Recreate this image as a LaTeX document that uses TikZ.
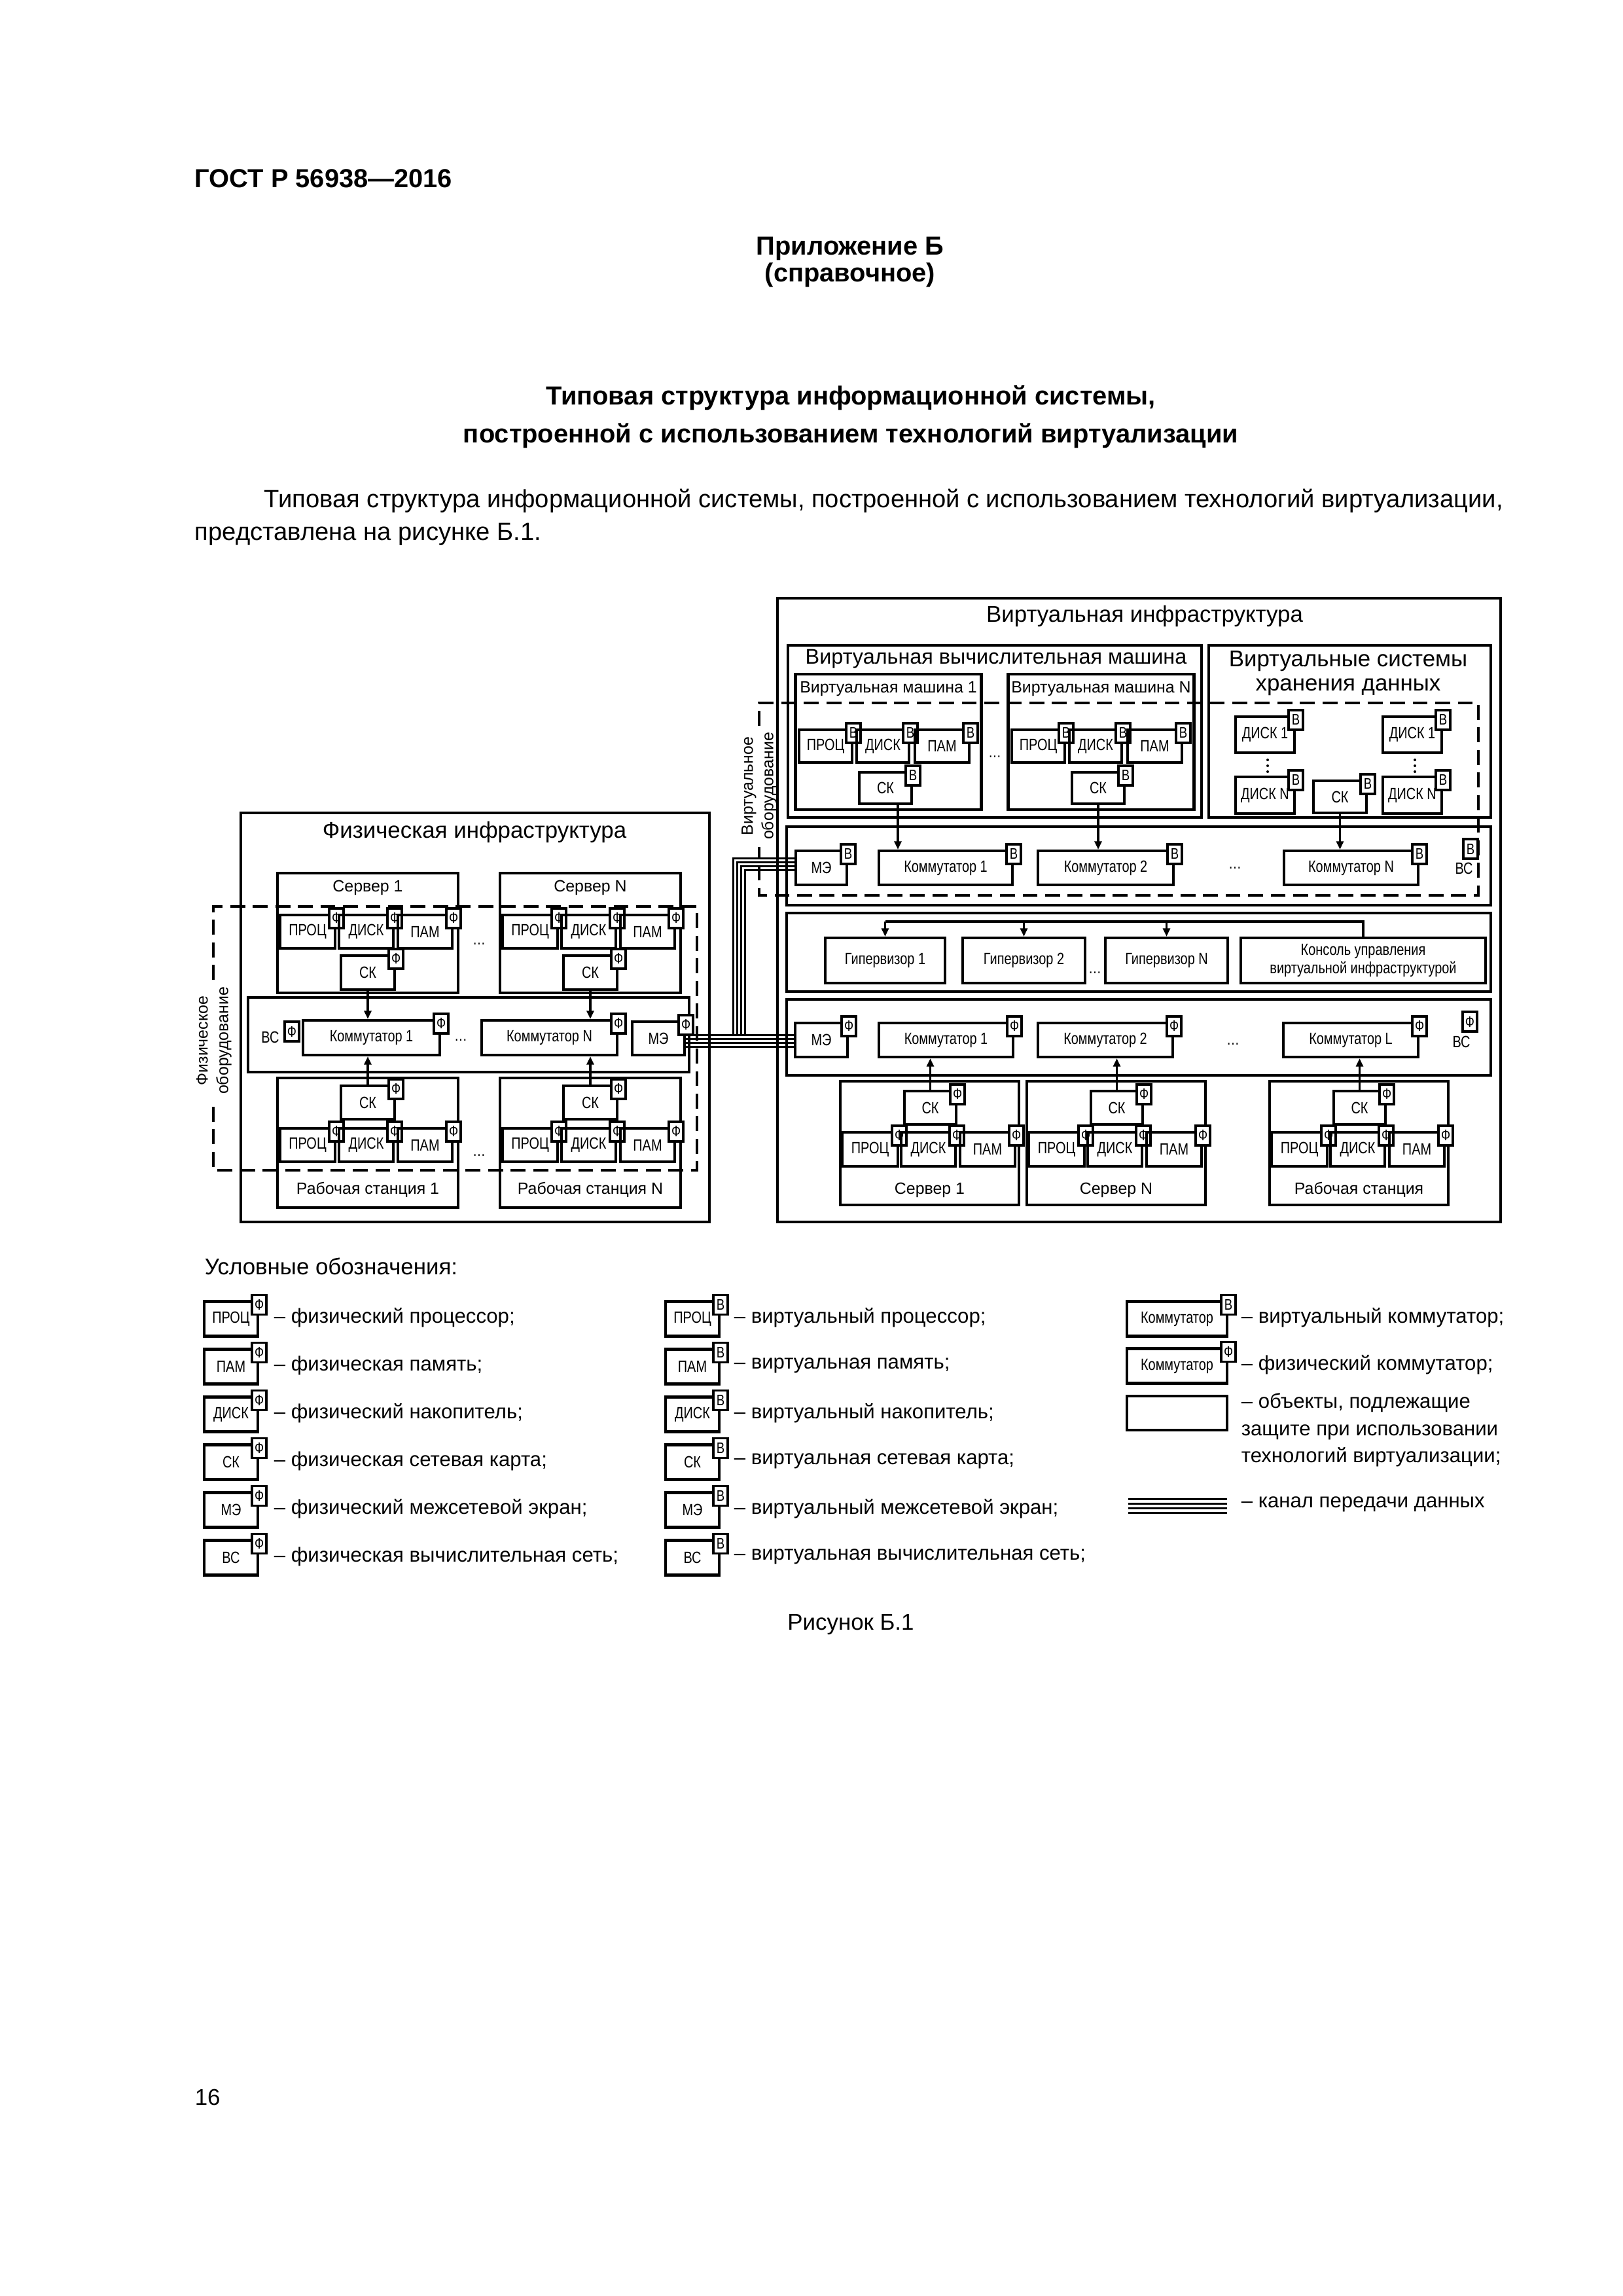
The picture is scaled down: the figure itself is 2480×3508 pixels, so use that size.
\documentclass[tikz,border=0pt]{standalone}
\usepackage{fontspec}
\setmainfont{Liberation Sans}
\newfontfamily\narrowfont[FakeStretch=0.8]{Liberation Sans}
\usetikzlibrary{arrows.meta,calc}

\newcommand*{\pxu}{0.2409pt}
\newcommand*{\hdrfont}{\fontsize{9.6}{11.5}\selectfont\bfseries}
\newcommand*{\parfont}{\fontsize{9.2}{11}\selectfont}
\newcommand*{\bigfont}{\fontsize{8.4}{9}\selectfont}
\newcommand*{\vcmfont}{\fontsize{7.8}{9}\selectfont}
\newcommand*{\midfont}{\fontsize{6}{7.5}\selectfont}
\newcommand*{\lblfont}{\narrowfont\fontsize{6}{6.6}\selectfont}
\newcommand*{\tagfont}{\narrowfont\fontsize{5.6}{6}\selectfont}
\newcommand*{\legfont}{\fontsize{7.5}{10}\selectfont}
\newcommand*{\legheadfont}{\fontsize{8.4}{10}\selectfont}

% box with its marker (Ф / В) on the upper right corner
\newcommand*{\unitbox}[7]{%
	\node[box={#4}{#5}] (#1) at (#2,#3) {#6};
	\node[tag] (#1-t) at ($(#1.north east)+(0,7)$) {#7};%
}

\begin{document}
\begin{tikzpicture}
[
	x=\pxu,
	y=-\pxu,
	box/.style 2 args={draw,line width=1pt,inner sep=0pt,minimum width=#1*\pxu,minimum height=#2*\pxu,font=\lblfont},
	tag/.style={draw,fill=white,line width=0.8pt,inner sep=0pt,minimum width=22*\pxu,minimum height=30*\pxu,font=\tagfont},
	ttl/.style={font=\bigfont,inner sep=0pt},
	sub/.style={font=\midfont,inner sep=0pt},
	desc/.style={font=\legfont,anchor=west,inner sep=0pt,align=left},
	hwline/.style={line width=0.75pt,dash pattern=on 5.5pt off 2.8pt},
	arr/.style={line width=0.75pt,-{Triangle[length=3pt,width=2.6pt]}},
	conn/.style={line width=0.75pt},
	chan/.style={line width=0.72pt}
]

	\fill[white] (0,0) rectangle (2480,3508);
	\useasboundingbox (0,0) rectangle (2480,3508);

	% page head
	\node[font=\hdrfont,anchor=west,inner sep=0pt] (gost) at (297,273) {ГОСТ Р 56938—2016};
	\node[font=\hdrfont,inner sep=0pt] (annex) at (1299,380) {Приложение Б};
	\node[font=\hdrfont,inner sep=0pt] (annex2) at (1299,420) {(справочное)};
	\node[font=\hdrfont,inner sep=0pt] (head1) at (1300,608) {Типовая структура информационной системы,};
	\node[font=\hdrfont,inner sep=0pt] (head2) at (1300,666) {построенной с использованием технологий виртуализации};
	\node[font=\parfont,anchor=west,inner sep=0pt] (par1) at (403,765)
		{\makebox[456pt][s]{Типовая структура информационной системы, построенной с использованием технологий виртуализации,}};
	\node[font=\parfont,anchor=west,inner sep=0pt] (par2) at (297,816) {представлена на рисунке Б.1.};

	% physical infrastructure
	\node[box={716}{625}] (phys) at (726,1554.5) {};
	\node[ttl] (phys-ttl) at (725,1271) {Физическая инфраструктура};

	\node[box={674}{114}] (pnet) at (716,1581) {};
	\node[font=\lblfont,inner sep=0pt] (pnet-lbl) at (413,1585) {ВС};
	\node[tag] (pnet-t) at (446,1576) {Ф};
	\unitbox{pk1}{567.5}{1585.5}{209}{53}{Коммутатор 1}{Ф}
	\unitbox{pkN}{839.5}{1585.5}{207}{53}{Коммутатор N}{Ф}
	\unitbox{pfw}{1006}{1586.5}{80}{51}{МЭ}{Ф}
	\node[font=\lblfont] (pdots) at (704,1589) {\dots};

	\foreach \n/\dx in {1/0, N/340}{
		% server
		\node[box={276}{183}] (ps\n) at (562+\dx,1425.5) {};
		\node[sub] (ps\n-ttl) at (562+\dx,1356) {Сервер \n};
		\unitbox{ps\n-proc}{470+\dx}{1423.5}{84}{51}{ПРОЦ}{Ф}
		\unitbox{ps\n-disk}{559.5+\dx}{1423.5}{83}{51}{ДИСК}{Ф}
		\unitbox{ps\n-mem}{649.5+\dx}{1423.5}{83}{51}{ПАМ}{Ф}
		\unitbox{ps\n-ck}{562+\dx}{1486}{82}{52}{СК}{Ф}
		\draw[arr] (ps\n-ck.south) -- (ps\n-ck.south |- pk\n.north);
		% workstation
		\node[box={276}{198}] (pw\n) at (562+\dx,1746) {};
		\node[sub] (pw\n-ttl) at (562+\dx,1818) {Рабочая станция \n};
		\unitbox{pw\n-ck}{562+\dx}{1684.5}{82}{51}{СК}{Ф}
		\unitbox{pw\n-proc}{470+\dx}{1749.5}{84}{51}{ПРОЦ}{Ф}
		\unitbox{pw\n-disk}{559.5+\dx}{1749.5}{83}{51}{ДИСК}{Ф}
		\unitbox{pw\n-mem}{649.5+\dx}{1749.5}{83}{51}{ПАМ}{Ф}
		\draw[arr] (pw\n-ck.north) -- (pw\n-ck.north |- pk\n.south);
	}
	\node[font=\lblfont] (psdots) at (732,1442) {\dots};
	\node[font=\lblfont] (pwdots) at (732,1765) {\dots};

	\draw[hwline] (326,1497) -- (326,1385) -- (1065,1385) -- (1065,1788) -- (326,1788) -- (326,1680);
	\node[sub,rotate=90,align=center] (phw-lbl) at (327,1590) {Физическое\\оборудование};

	% virtual infrastructure
	\node[box={1105}{953}] (virt) at (1740.5,1390.5) {};
	\node[ttl] (virt-ttl) at (1749,941) {Виртуальная инфраструктура};
	\node[box={632}{263}] (vcm) at (1520,1117.5) {};
	\node[ttl,font=\vcmfont] (vcm-ttl) at (1522,1007) {Виртуальная вычислительная машина};
	\node[box={431}{263}] (vsd) at (2062.5,1117.5) {};
	\node[ttl,align=center] (vsd-ttl) at (2060,1028.5) {Виртуальные системы\\хранения данных};

	% virtual network
	\node[box={1076}{120}] (vnet) at (1740,1323) {};
	\unitbox{vfw}{1255}{1326}{78}{52}{МЭ}{В}
	\unitbox{vk1}{1445}{1326}{204}{52}{Коммутатор 1}{В}
	\unitbox{vk2}{1689.5}{1326}{207}{52}{Коммутатор 2}{В}
	\unitbox{vkN}{2064.5}{1326}{205}{52}{Коммутатор N}{В}
	\node[font=\lblfont] (vdots) at (1887,1326) {\dots};
	\node[font=\lblfont,inner sep=0pt] (vnet-lbl) at (2237,1327) {ВС};
	\node[tag] (vnet-t) at (2247,1297) {В};

	\foreach \n/\dx/\ax/\k in {1/0/19/vk1, N/325/0/vk2}{
		\node[box={284}{207}] (vm\n) at (1357.5+\dx,1133.5) {};
		\node[sub] (vm\n-ttl) at (1357.5+\dx,1053) {Виртуальная машина \n};
		\unitbox{vm\n-proc}{1261.5+\dx}{1140}{81}{50}{ПРОЦ}{В}
		\unitbox{vm\n-disk}{1349+\dx}{1140}{80}{50}{ДИСК}{В}
		\unitbox{vm\n-mem}{1439.5+\dx}{1140}{83}{50}{ПАМ}{В}
		\unitbox{vm\n-ck}{1353+\dx}{1204}{80}{48}{СК}{В}
		\coordinate (vm\n-out) at ($(vm\n-ck.south)+(\ax,0)$);
		\draw[arr] (vm\n-out) -- (vm\n-out |- \k.north);
	}
	\node[font=\lblfont] (vmdots) at (1520,1156) {\dots};

	% storage
	\unitbox{sd1a}{1933}{1122.5}{90}{55}{ДИСК 1}{В}
	\unitbox{sdNa}{1933}{1215}{90}{56}{ДИСК N}{В}
	\unitbox{sd1b}{2158}{1122.5}{90}{55}{ДИСК 1}{В}
	\unitbox{sdNb}{2158}{1215}{90}{56}{ДИСК N}{В}
	\unitbox{sd-ck}{2047.5}{1217.5}{81}{49}{СК}{В}
	\foreach \k in {0,1,2}{
		\fill (1937,1161+9*\k) circle (2);
		\fill (2162,1161+9*\k) circle (2);
	}
	\draw[arr] (sd-ck.south) -- (sd-ck.south |- vkN.north);

	\draw[hwline] (1160,1109) -- (1160,1074) -- (2259,1074) -- (2259,1368) -- (1160,1368) -- (1160,1294);
	\node[sub,rotate=90,align=center] (vhw-lbl) at (1160,1201) {Виртуальное\\оборудование};

	% hypervisors
	\node[box={1076}{120}] (hyp) at (1740,1455) {};
	\node[box={183}{69}] (hyp1) at (1352.5,1467.5) {Гипервизор 1};
	\node[box={187}{69}] (hyp2) at (1564.5,1467.5) {Гипервизор 2};
	\node[box={187}{69}] (hypN) at (1782.5,1467.5) {Гипервизор N};
	\node[box={374}{69},align=center] (con) at (2083,1467.5) {Консоль управления\\виртуальной инфраструктурой};
	\node[font=\lblfont] (hdots) at (1673,1486) {\dots};
	\coordinate (bus) at (0,1408);
	\draw[conn] (con.north) -- (con.north |- bus) -- (hyp1.north |- bus);
	\foreach \h in {hyp1,hyp2,hypN}
		\draw[arr] (\h.north |- bus) -- (\h.north);

	% physical network of the virtual side
	\node[box={1076}{116}] (vpnet) at (1740,1585) {};
	\unitbox{vpfw}{1255}{1589}{80}{52}{МЭ}{Ф}
	\unitbox{vpk1}{1445.5}{1589}{205}{52}{Коммутатор 1}{Ф}
	\unitbox{vpk2}{1689}{1589}{206}{52}{Коммутатор 2}{Ф}
	\unitbox{vpkL}{2064}{1589}{206}{52}{Коммутатор L}{Ф}
	\node[font=\lblfont] (vpdots) at (1884,1595) {\dots};
	\node[font=\lblfont,inner sep=0pt] (vpnet-lbl) at (2233,1592) {ВС};
	\node[tag] (vpnet-t) at (2246,1561) {Ф};

	\foreach \n/\ttltext/\dx/\k in {s1/Сервер 1/0/vpk1, sN/Сервер N/285/vpk2, ws/Рабочая станция/656/vpkL}{
		\node[box={273}{189}] (v\n) at (1420.5+\dx,1746.5) {};
		\node[sub] (v\n-ttl) at (1420.5+\dx,1818) {\ttltext};
		\unitbox{v\n-ck}{1421.5+\dx}{1692.5}{79}{51}{СК}{Ф}
		\unitbox{v\n-proc}{1329.5+\dx}{1756}{85}{52}{ПРОЦ}{Ф}
		\unitbox{v\n-disk}{1418.5+\dx}{1756}{83}{52}{ДИСК}{Ф}
		\unitbox{v\n-mem}{1509+\dx}{1756}{84}{52}{ПАМ}{Ф}
		\draw[arr] (v\n-ck.north) -- (v\n-ck.north |- \k.south);
	}

	% data channel
	\foreach \i in {0,...,3}{
		\coordinate (ch\i) at (0,1581+6*\i);
		\coordinate (bt\i) at (1120+6*\i,1311+6*\i);
		\draw[chan] (pfw.east |- ch\i) -- (vpfw.west |- ch\i);
		\draw[chan] (bt\i |- ch0) -- (bt\i) -- (vfw.west |- bt\i);
	}

	% legend
	\node[font=\legheadfont,anchor=west,inner sep=0pt] (leg) at (312,1935) {Условные обозначения:};
	\foreach \lab/\txt [count=\k from 0] in {ПРОЦ/физический процессор;, ПАМ/физическая память;, ДИСК/физический накопитель;, СК/физическая сетевая карта;, МЭ/физический межсетевой экран;, ВС/физическая вычислительная сеть;}{
		\unitbox{lf\k}{353}{2015+73*\k}{82}{53}{\lab}{Ф}
		\node[desc] (lf\k-d) at (418,2013+73*\k) {– \txt};
	}
	\foreach \lab/\txt [count=\k from 0] in {ПРОЦ/виртуальный процессор;, ПАМ/виртуальная память;, ДИСК/виртуальный накопитель;, СК/виртуальная сетевая карта;, МЭ/виртуальный межсетевой экран;, ВС/виртуальная вычислительная сеть;}{
		\unitbox{lv\k}{1058}{2015+73*\k}{82}{53}{\lab}{В}
		\node[desc] (lv\k-d) at (1121,2013+73*\k) {– \txt};
	}
	\unitbox{lk1}{1798.5}{2015}{153}{53}{Коммутатор}{В}
	\node[desc] (lk1-d) at (1896,2013) {– виртуальный коммутатор;};
	\unitbox{lk2}{1798.5}{2087}{153}{53}{Коммутатор}{Ф}
	\node[desc] (lk2-d) at (1896,2085) {– физический коммутатор;};
	\node[box={153}{52}] (lobj) at (1798.5,2159) {};
	\node[desc,anchor=north west] (lobj-d) at (1896,2128) {– объекты, подлежащие\\защите при использовании\\технологий виртуализации;};
	\foreach \i in {0,...,3}
		\draw[chan] (1724,2290+7*\i) -- (1875,2290+7*\i);
	\node[desc] (lch-d) at (1896,2298) {– канал передачи данных};

	% caption and page number
	\node[font=\bigfont,inner sep=0pt] (cap) at (1300,2482) {Рисунок Б.1};
	\node[font=\bigfont,anchor=west,inner sep=0pt] (pg) at (297,3204) {16};

\end{tikzpicture}
\end{document}
